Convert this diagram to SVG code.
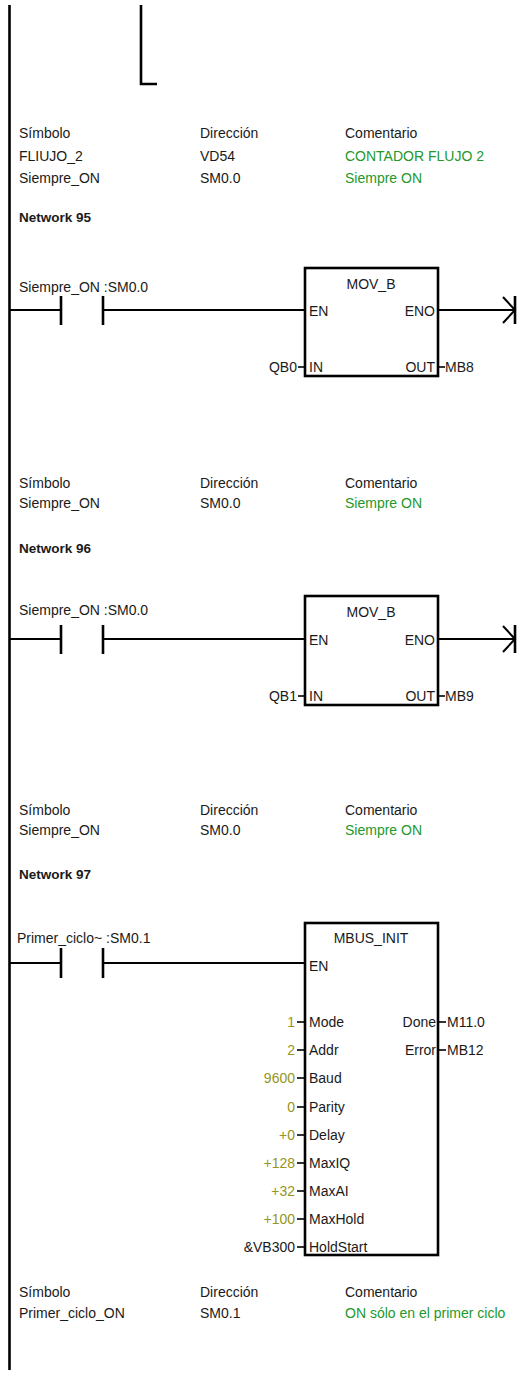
<svg xmlns="http://www.w3.org/2000/svg" width="523" height="1374" viewBox="0 0 523 1374">
<style>
text{font-family:"Liberation Sans",Arial,sans-serif;font-size:14px;fill:#1a1a1a}
.b{font-weight:bold;font-size:13.5px}
.g{fill:#22992a}
.o{fill:#959520}
.r{text-anchor:end}
.m{text-anchor:middle}
.w{stroke:#000;stroke-width:2;fill:none}
.k{stroke:#000;stroke-width:2.6;fill:none}
.box{stroke:#000;stroke-width:2.6;fill:#fff}
.t{stroke:#000;stroke-width:1.6}
</style>
<rect width="523" height="1374" fill="#fff"/>
<g id="connectors">
<line class="k" x1="9.5" y1="5" x2="9.5" y2="1370"/>
<polyline class="k" points="141,5 141,84 157,84" stroke-width="3"/>
<line class="w" x1="9.5" y1="310" x2="61" y2="310"/>
<line class="w" x1="103" y1="310" x2="305" y2="310"/>
<line class="w" x1="438" y1="310" x2="515" y2="310"/>
<line class="w" x1="9.5" y1="639" x2="61" y2="639"/>
<line class="w" x1="103" y1="639" x2="305" y2="639"/>
<line class="w" x1="438" y1="639" x2="515" y2="639"/>
<line class="w" x1="9.5" y1="963" x2="61" y2="963"/>
<line class="w" x1="103" y1="963" x2="305" y2="963"/>
</g>
<g id="table1">
<text x="19" y="138">Símbolo</text><text x="200" y="138">Dirección</text><text x="345" y="138">Comentario</text>
<text x="19" y="161">FLIUJO_2</text><text x="200" y="161">VD54</text><text class="g" x="345" y="161">CONTADOR FLUJO 2</text>
<text x="19" y="183">Siempre_ON</text><text x="200" y="183">SM0.0</text><text class="g" x="345" y="183">Siempre ON</text>
<text class="b" x="19" y="222">Network 95</text>
</g>
<g id="contact95">
<text x="19" y="292">Siempre_ON :SM0.0</text>
<line class="k" x1="61" y1="296" x2="61" y2="325"/>
<line class="k" x1="103" y1="296" x2="103" y2="325"/>
</g>
<g id="movb95">
<rect class="box" x="305" y="268" width="133" height="108"/>
<text class="m" x="371" y="289">MOV_B</text>
<text x="309" y="316">EN</text>
<text class="r" x="435" y="316">ENO</text>
<text x="309" y="372">IN</text>
<text class="r" x="435" y="372">OUT</text>
<line class="t" x1="298" y1="367" x2="305" y2="367"/>
<line class="t" x1="438" y1="367" x2="445" y2="367"/>
<text class="r" x="297" y="372">QB0</text>
<text x="445" y="372">MB8</text>
</g>
<g id="coil95">
<polyline class="w" points="503,297 515,310 503,323"/>
<line class="k" x1="515" y1="296" x2="515" y2="324"/>
</g>
<g id="table2">
<text x="19" y="488">Símbolo</text><text x="200" y="488">Dirección</text><text x="345" y="488">Comentario</text>
<text x="19" y="508">Siempre_ON</text><text x="200" y="508">SM0.0</text><text class="g" x="345" y="508">Siempre ON</text>
<text class="b" x="19" y="553">Network 96</text>
</g>
<g id="contact96">
<text x="19" y="615">Siempre_ON :SM0.0</text>
<line class="k" x1="61" y1="625" x2="61" y2="654"/>
<line class="k" x1="103" y1="625" x2="103" y2="654"/>
</g>
<g id="movb96">
<rect class="box" x="305" y="596" width="133" height="109"/>
<text class="m" x="371" y="617">MOV_B</text>
<text x="309" y="645">EN</text>
<text class="r" x="435" y="645">ENO</text>
<text x="309" y="701">IN</text>
<text class="r" x="435" y="701">OUT</text>
<line class="t" x1="298" y1="696" x2="305" y2="696"/>
<line class="t" x1="438" y1="696" x2="445" y2="696"/>
<text class="r" x="297" y="701">QB1</text>
<text x="445" y="701">MB9</text>
</g>
<g id="coil96">
<polyline class="w" points="503,626 515,639 503,652"/>
<line class="k" x1="515" y1="625" x2="515" y2="653"/>
</g>
<g id="table3">
<text x="19" y="815">Símbolo</text><text x="200" y="815">Dirección</text><text x="345" y="815">Comentario</text>
<text x="19" y="835">Siempre_ON</text><text x="200" y="835">SM0.0</text><text class="g" x="345" y="835">Siempre ON</text>
<text class="b" x="19" y="879">Network 97</text>
</g>
<g id="contact97">
<text x="17" y="943">Primer_ciclo~ :SM0.1</text>
<line class="k" x1="61" y1="948" x2="61" y2="978"/>
<line class="k" x1="103" y1="948" x2="103" y2="978"/>
</g>
<g id="mbusinit">
<rect class="box" x="305" y="923" width="133" height="332"/>
<text class="m" x="371" y="943">MBUS_INIT</text>
<text x="309" y="971">EN</text>
<g class="pins">
<line class="t" x1="297" y1="1022" x2="305" y2="1022"/><text x="309" y="1027">Mode</text><text class="r o" x="295" y="1027">1</text>
<line class="t" x1="297" y1="1050" x2="305" y2="1050"/><text x="309" y="1055">Addr</text><text class="r o" x="295" y="1055">2</text>
<line class="t" x1="297" y1="1078" x2="305" y2="1078"/><text x="309" y="1083">Baud</text><text class="r o" x="295" y="1083">9600</text>
<line class="t" x1="297" y1="1107" x2="305" y2="1107"/><text x="309" y="1112">Parity</text><text class="r o" x="295" y="1112">0</text>
<line class="t" x1="297" y1="1135" x2="305" y2="1135"/><text x="309" y="1140">Delay</text><text class="r o" x="295" y="1140">+0</text>
<line class="t" x1="297" y1="1163" x2="305" y2="1163"/><text x="309" y="1168">MaxIQ</text><text class="r o" x="295" y="1168">+128</text>
<line class="t" x1="297" y1="1191" x2="305" y2="1191"/><text x="309" y="1196">MaxAI</text><text class="r o" x="295" y="1196">+32</text>
<line class="t" x1="297" y1="1219" x2="305" y2="1219"/><text x="309" y="1224">MaxHold</text><text class="r o" x="295" y="1224">+100</text>
<line class="t" x1="297" y1="1247" x2="305" y2="1247"/><text x="309" y="1252">HoldStart</text><text class="r" x="295" y="1252">&amp;VB300</text>
<line class="t" x1="438" y1="1022" x2="446" y2="1022"/><text class="r" x="436" y="1027">Done</text><text x="447" y="1027">M11.0</text>
<line class="t" x1="438" y1="1050" x2="446" y2="1050"/><text class="r" x="436" y="1055">Error</text><text x="447" y="1055">MB12</text>
</g>
</g>
<g id="table4">
<text x="19" y="1297">Símbolo</text><text x="200" y="1297">Dirección</text><text x="345" y="1297">Comentario</text>
<text x="19" y="1318">Primer_ciclo_ON</text><text x="200" y="1318">SM0.1</text><text class="g" x="345" y="1318">ON sólo en el primer ciclo</text>
</g>
</svg>
